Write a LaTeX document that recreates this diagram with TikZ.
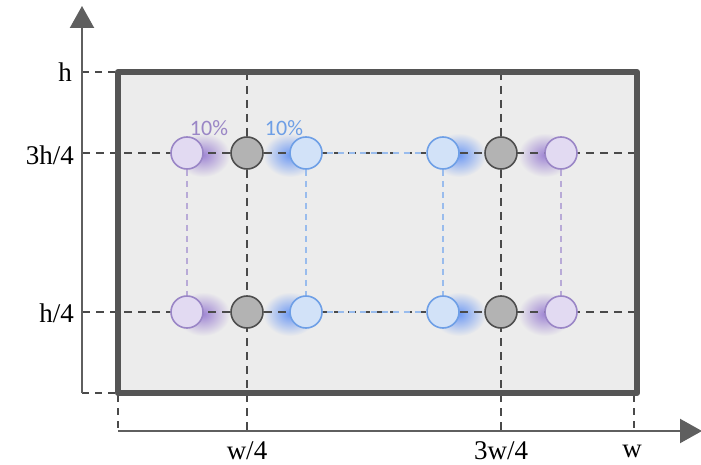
\documentclass[tikz,border=0pt]{standalone}
\usepackage{fontspec}
\setmainfont{Liberation Serif}
\newfontfamily\labfont{Carlito}
\usetikzlibrary{arrows.meta}
\definecolor{bg}{HTML}{ECECEC}
\definecolor{frame}{HTML}{555555}
\definecolor{axis}{HTML}{5F5F5F}
\definecolor{grid}{HTML}{4A4A4A}
\definecolor{pfill}{HTML}{E2DAF2}
\definecolor{pdraw}{HTML}{9A86C6}
\definecolor{pglow}{HTML}{7E5CC4}
\definecolor{bfill}{HTML}{D2E2F8}
\definecolor{bdraw}{HTML}{6E9FE6}
\definecolor{bglow}{HTML}{4A80F0}
\definecolor{gfill}{HTML}{B3B3B3}
\definecolor{gdraw}{HTML}{4E4E4E}
\tikzset{
  gridline/.style={draw=grid, line width=1.6pt, dash pattern=on 8pt off 6pt},
  ticks/.style={draw=grid, line width=1.3pt, dash pattern=on 7pt off 6pt},
  pnode/.style={circle, minimum size=32pt, inner sep=0pt, fill=pfill, draw=pdraw, line width=1.6pt},
  bnode/.style={circle, minimum size=32pt, inner sep=0pt, fill=bfill, draw=bdraw, line width=1.6pt},
  gnode/.style={circle, minimum size=32pt, inner sep=0pt, fill=gfill, draw=gdraw, line width=1.6pt},
  plink/.style={draw=pdraw!70, line width=1.4pt, dash pattern=on 6pt off 5pt},
  blink/.style={draw=bdraw!70, line width=1.4pt, dash pattern=on 6pt off 5pt},
  axlab/.style={font=\fontsize{27}{31}\selectfont, text=black, inner sep=0pt},
  pct/.style={font=\labfont\fontsize{22}{24}\selectfont, inner sep=0pt},
}
\begin{document}
\begin{tikzpicture}[x=1pt,y=-1pt]
\useasboundingbox (0,0) rectangle (701,465);
% rectangle
\fill[bg] (118,72) rectangle (637,393);
% glows
\foreach \yy in {153,312}{
  \shade[inner color=pglow!75, outer color=bg] (203,\yy+2) ellipse (27pt and 22pt);
  \shade[inner color=pglow!75, outer color=bg] (545,\yy+2) ellipse (27pt and 22pt);
  \shade[inner color=bglow!80, outer color=bg] (290,\yy+2) ellipse (27pt and 22pt);
  \shade[inner color=bglow!80, outer color=bg] (459,\yy+2) ellipse (27pt and 22pt);
}
% coordinates
\coordinate (yb) at (82,393);
\coordinate (yt) at (82,6);
\coordinate (xl) at (118,431);
\coordinate (xr) at (702,431);
\coordinate (hL) at (82,72);
\coordinate (hR) at (118,72);
\coordinate (tL) at (82,153);
\coordinate (tR) at (637,153);
\coordinate (qL) at (82,312);
\coordinate (qR) at (637,312);
\coordinate (zL) at (82,393);
\coordinate (zR) at (118,393);
\coordinate (v1t) at (247,72);
\coordinate (v1b) at (247,431);
\coordinate (v2t) at (501,72);
\coordinate (v2b) at (501,431);
\coordinate (v0t) at (118,395);
\coordinate (v0b) at (118,431);
\coordinate (v3t) at (634,395);
\coordinate (v3b) at (634,431);
% grid lines
\draw[gridline] (tL) -- (tR);
\draw[gridline] (qL) -- (qR);
\draw[gridline] (v1t) -- (v1b);
\draw[gridline] (v2t) -- (v2b);
\draw[ticks] (hL) -- (hR);
\draw[ticks] (zL) -- (zR);
\draw[ticks] (v0t) -- (v0b);
\draw[ticks] (v3t) -- (v3b);
% frame
\draw[frame, line width=6pt, line join=round] (118,72) rectangle (637,393);
% axes
\draw[axis, line width=2.2pt, -{Triangle[length=22pt,width=24pt]}] (yb) -- (yt);
\draw[axis, line width=2.2pt, -{Triangle[length=22pt,width=24pt]}] (xl) -- (xr);
% axis labels
\node[axlab, anchor=east] (lh) at (72,72) {h};
\node[axlab, anchor=east] (l34h) at (74,155) {3h/4};
\node[axlab, anchor=east] (l14h) at (74,313) {h/4};
\node[axlab] (lw4) at (247,451) {w/4};
\node[axlab] (l3w4) at (501,451) {3w/4};
\node[axlab] (lw) at (632,451) {w};
% nodes
\node[pnode] (p1) at (187,153) {};
\node[gnode] (g1) at (247,153) {};
\node[bnode] (b1) at (306,153) {};
\node[bnode] (b2) at (443,153) {};
\node[gnode] (g2) at (501,153) {};
\node[pnode] (p2) at (561,153) {};
\node[pnode] (p3) at (187,312) {};
\node[gnode] (g3) at (247,312) {};
\node[bnode] (b3) at (306,312) {};
\node[bnode] (b4) at (443,312) {};
\node[gnode] (g4) at (501,312) {};
\node[pnode] (p4) at (561,312) {};
% links
\draw[plink] (p1) -- (p3);
\draw[plink] (p2) -- (p4);
\draw[blink] (b1) -- (b3);
\draw[blink] (b2) -- (b4);
\draw[blink, dash phase=7pt] (b1) -- (b2);
\draw[blink, dash phase=7pt] (b3) -- (b4);
% percent labels
\node[pct, text=pdraw] (pp) at (209,128) {10\%};
\node[pct, text=bdraw] (pb) at (284,128) {10\%};
\end{tikzpicture}
\end{document}
